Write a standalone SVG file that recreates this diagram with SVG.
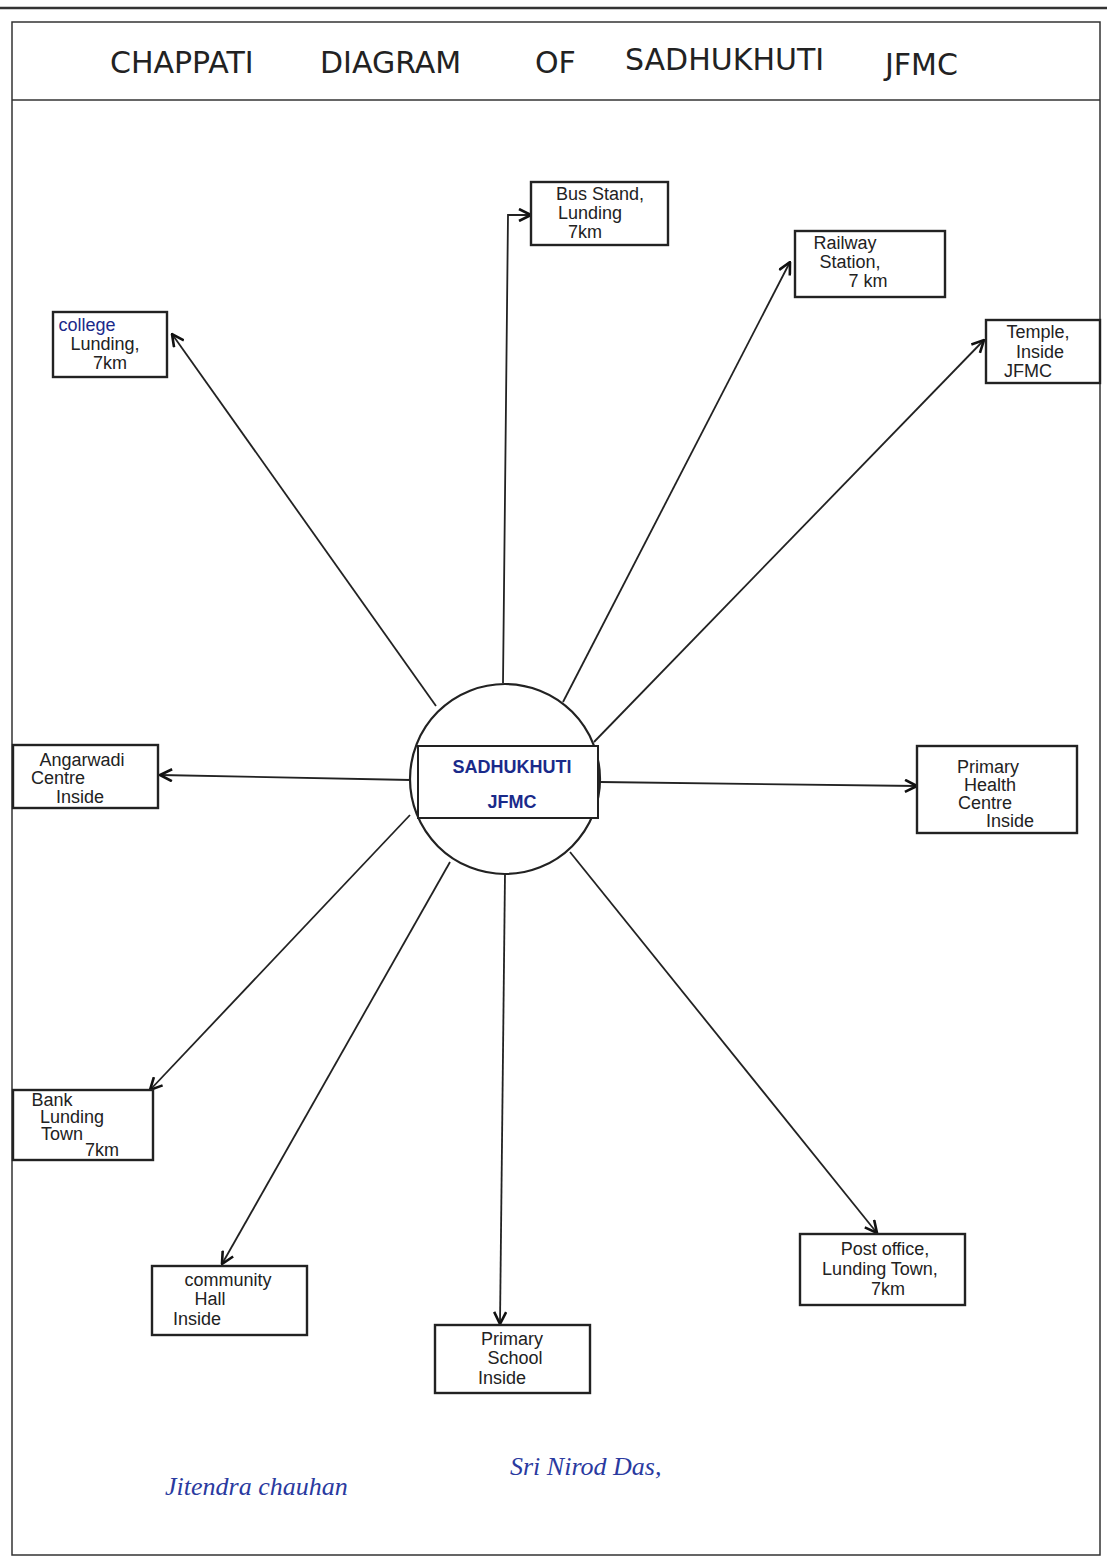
<svg xmlns="http://www.w3.org/2000/svg" width="1107" height="1561" viewBox="0 0 1107 1561">
<style>
.box{fill:#fff;stroke:#222;stroke-width:2.4}
.t{font-family:"Liberation Sans",Arial,sans-serif;font-size:18px;fill:#222;text-anchor:middle}
.tb{font-family:"Liberation Sans",Arial,sans-serif;font-size:18px;fill:#1a2a8a;text-anchor:middle}
.ttl{font-family:"DejaVu Sans",sans-serif;font-size:30px;fill:#222}
.c{fill:none;stroke:#222;stroke-width:1.8;marker-end:url(#ah)}
.sig{font-family:"Liberation Serif",serif;font-style:italic;font-size:26px;fill:#2a3aa0}
</style>
<defs>
<marker id="ah" viewBox="0 0 14 14" refX="13" refY="7" markerWidth="14" markerHeight="14" markerUnits="userSpaceOnUse" orient="auto">
<path d="M1,1 L13,7 L1,13" fill="none" stroke="#111" stroke-width="2.6"/>
</marker>
</defs>
<rect width="1107" height="1561" fill="#fff"/>
<g id="frame" fill="none" stroke="#333">
<line x1="0" y1="8" x2="1107" y2="8" stroke-width="2.5"/>
<rect x="12" y="22" width="1088" height="1533" stroke-width="1.5"/>
<line x1="12" y1="100" x2="1100" y2="100" stroke-width="1.5"/>
</g>
<g id="title">
<text class="ttl" x="110" y="73">CHAPPATI</text>
<text class="ttl" x="320" y="73">DIAGRAM</text>
<text class="ttl" x="535" y="73">OF</text>
<text class="ttl" x="625" y="70">SADHUKHUTI</text>
<text class="ttl" x="885" y="75">JFMC</text>
</g>
<g id="connectors">
<polyline class="c" points="503,683 508,215 531,215"/>
<line class="c" x1="563" y1="702" x2="790" y2="262"/>
<line class="c" x1="594" y1="742" x2="984" y2="340"/>
<line class="c" x1="436" y1="706" x2="172" y2="334"/>
<line class="c" x1="411" y1="780" x2="160" y2="775"/>
<line class="c" x1="600" y1="782" x2="917" y2="786"/>
<line class="c" x1="410" y1="815" x2="150" y2="1090"/>
<line class="c" x1="450" y1="862" x2="222" y2="1264"/>
<line class="c" x1="505" y1="873" x2="500" y2="1324"/>
<line class="c" x1="570" y1="852" x2="877" y2="1233"/>
</g>
<g id="center">
<circle cx="505" cy="779" r="95" fill="#fff" stroke="#222" stroke-width="2.2"/>
<rect x="418" y="746" width="180" height="72" fill="#fff" stroke="#222" stroke-width="2"/>
<text class="tb" x="512" y="773" font-size="24" font-weight="bold">SADHUKHUTI</text>
<text class="tb" x="512" y="808" font-size="24" font-weight="bold">JFMC</text>
</g>
<g id="bus-stand">
<rect class="box" x="531" y="182" width="137" height="63"/>
<text class="t" x="600" y="200">Bus Stand,</text>
<text class="t" x="590" y="219">Lunding</text>
<text class="t" x="585" y="238">7km</text>
</g>
<g id="railway">
<rect class="box" x="795" y="231" width="150" height="66"/>
<text class="t" x="845" y="249">Railway</text>
<text class="t" x="850" y="268">Station,</text>
<text class="t" x="868" y="287">7 km</text>
</g>
<g id="temple">
<rect class="box" x="986" y="320" width="114" height="63"/>
<text class="t" x="1038" y="338">Temple,</text>
<text class="t" x="1040" y="358">Inside</text>
<text class="t" x="1028" y="377" font-size="13">JFMC</text>
</g>
<g id="college">
<rect class="box" x="53" y="312" width="114" height="65"/>
<text class="tb" x="87" y="331" font-size="15">college</text>
<text class="t" x="105" y="350">Lunding,</text>
<text class="t" x="110" y="369">7km</text>
</g>
<g id="anganwadi">
<rect class="box" x="13" y="745" width="145" height="63"/>
<text class="t" x="82" y="766">Angarwadi</text>
<text class="t" x="58" y="784">Centre</text>
<text class="t" x="80" y="803">Inside</text>
</g>
<g id="health">
<rect class="box" x="917" y="746" width="160" height="87"/>
<text class="t" x="988" y="773">Primary</text>
<text class="t" x="990" y="791">Health</text>
<text class="t" x="985" y="809">Centre</text>
<text class="t" x="1010" y="827">Inside</text>
</g>
<g id="bank">
<rect class="box" x="13" y="1090" width="140" height="70"/>
<text class="t" x="52" y="1106" font-size="16">Bank</text>
<text class="t" x="72" y="1123" font-size="16">Lunding</text>
<text class="t" x="62" y="1140" font-size="16">Town</text>
<text class="t" x="102" y="1156" font-size="16">7km</text>
</g>
<g id="community-hall">
<rect class="box" x="152" y="1266" width="155" height="69"/>
<text class="t" x="228" y="1286">community</text>
<text class="t" x="210" y="1305">Hall</text>
<text class="t" x="197" y="1325">Inside</text>
</g>
<g id="primary-school">
<rect class="box" x="435" y="1325" width="155" height="68"/>
<text class="t" x="512" y="1345">Primary</text>
<text class="t" x="515" y="1364">School</text>
<text class="t" x="502" y="1384">Inside</text>
</g>
<g id="post-office">
<rect class="box" x="800" y="1234" width="165" height="71"/>
<text class="t" x="885" y="1255">Post office,</text>
<text class="t" x="880" y="1275">Lunding Town,</text>
<text class="t" x="888" y="1295">7km</text>
</g>
<g id="signatures">
<text class="sig" x="165" y="1495">Jitendra chauhan</text>
<text class="sig" x="510" y="1475">Sri Nirod Das,</text>
</g>
</svg>
